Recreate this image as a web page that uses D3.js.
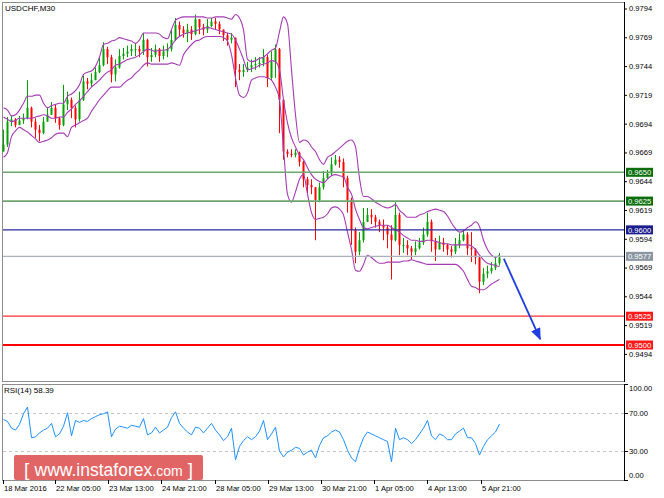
<!DOCTYPE html>
<html><head><meta charset="utf-8">
<script src="https://cdn.jsdelivr.net/npm/d3@7"></script>
<style>body{margin:0;background:#fff}svg{display:block}text{font-family:"Liberation Sans",Arial,sans-serif}</style>
</head><body>
<svg id="c" width="664" height="498"></svg>
<script>
// ---- data (USDCHF M30, each candle ~ 2.4 hours aggregated) ----
const firstOpen = 0.9668;
const closes = [0.9674,0.9694,0.9696,0.9691,0.9695,0.9697,0.9706,0.9694,0.9687,0.9684,
0.9694,0.9700,0.9706,0.9697,0.9691,0.9709,0.9713,0.9706,0.9696,0.9713,
0.9729,0.9727,0.9730,0.9737,0.9743,0.9757,0.9750,0.9735,0.9741,0.9751,
0.9753,0.9755,0.9757,0.9757,0.9755,0.9765,0.9750,0.9752,0.9757,0.9751,
0.9755,0.9757,0.9765,0.9778,0.9774,0.9771,0.9774,0.9770,0.9783,0.9776,
0.9774,0.9777,0.9781,0.9779,0.9774,0.9769,0.9765,0.9767,0.9739,0.9737,
0.9739,0.9741,0.9743,0.9744,0.9745,0.9750,0.9732,0.9746,0.9757,0.9713,
0.9668,0.9666,0.9665,0.9667,0.9659,0.9644,0.9639,0.9637,0.9626,0.9637,
0.9645,0.9649,0.9657,0.9661,0.9659,0.9645,0.9626,0.9600,0.9581,0.9591,
0.9607,0.9613,0.9611,0.9607,0.9604,0.9602,0.9596,0.9591,0.9613,0.9587,
0.9587,0.9584,0.9581,0.9584,0.9589,0.9596,0.9607,0.9590,0.9583,0.9589,
0.9587,0.9583,0.9581,0.9587,0.9591,0.9596,0.9584,0.9583,0.9576,0.9555,
0.9562,0.9564,0.9567,0.9571,0.9576];
const highs = [0.9687,0.9698,0.9699,0.9697,0.9699,0.9701,0.9730,0.9707,0.9697,0.9691,
0.9698,0.9706,0.9711,0.9709,0.9698,0.9726,0.9720,0.9715,0.9708,0.9720,
0.9734,0.9732,0.9736,0.9741,0.9750,0.9763,0.9759,0.9752,0.9748,0.9757,
0.9758,0.9760,0.9761,0.9762,0.9760,0.9771,0.9766,0.9758,0.9761,0.9758,
0.9760,0.9762,0.9774,0.9784,0.9781,0.9777,0.9779,0.9777,0.9787,0.9783,
0.9779,0.9783,0.9784,0.9784,0.9781,0.9774,0.9771,0.9771,0.9767,0.9744,
0.9744,0.9746,0.9748,0.9750,0.9750,0.9757,0.9752,0.9755,0.9761,0.9758,
0.9713,0.9670,0.9670,0.9670,0.9668,0.9660,0.9646,0.9644,0.9637,0.9641,
0.9651,0.9652,0.9663,0.9665,0.9664,0.9662,0.9647,0.9628,0.9602,0.9598,
0.9619,0.9619,0.9618,0.9613,0.9609,0.9609,0.9604,0.9604,0.9624,0.9615,
0.9593,0.9591,0.9586,0.9590,0.9593,0.9602,0.9615,0.9609,0.9593,0.9595,
0.9593,0.9588,0.9586,0.9593,0.9597,0.9600,0.9598,0.9598,0.9584,0.9578,
0.9567,0.9569,0.9572,0.9576,0.9580];
const lows = [0.9668,0.9672,0.9690,0.9689,0.9691,0.9692,0.9696,0.9689,0.9680,0.9677,
0.9683,0.9694,0.9700,0.9693,0.9687,0.9690,0.9704,0.9697,0.9689,0.9694,
0.9712,0.9722,0.9724,0.9730,0.9736,0.9742,0.9744,0.9728,0.9729,0.9740,
0.9748,0.9750,0.9751,0.9751,0.9750,0.9752,0.9742,0.9746,0.9750,0.9746,
0.9748,0.9750,0.9755,0.9764,0.9768,0.9767,0.9763,0.9765,0.9769,0.9770,
0.9769,0.9771,0.9776,0.9774,0.9770,0.9764,0.9760,0.9762,0.9724,0.9730,
0.9733,0.9737,0.9737,0.9739,0.9741,0.9742,0.9724,0.9730,0.9732,0.9684,
0.9661,0.9663,0.9663,0.9663,0.9655,0.9637,0.9632,0.9631,0.9591,0.9624,
0.9635,0.9644,0.9647,0.9656,0.9654,0.9637,0.9615,0.9587,0.9571,0.9578,
0.9589,0.9607,0.9605,0.9602,0.9598,0.9591,0.9584,0.9557,0.9590,0.9578,
0.9580,0.9578,0.9574,0.9578,0.9583,0.9587,0.9594,0.9581,0.9573,0.9583,
0.9581,0.9578,0.9576,0.9579,0.9584,0.9590,0.9578,0.9572,0.9570,0.9545,
0.9552,0.9558,0.9562,0.9565,0.9569];
const bbUpper = [0.9706,0.9704,0.9699,0.9700,0.9704,0.9710,0.9716,0.9716,0.9717,0.9717,
0.9710,0.9706,0.9708,0.9709,0.9710,0.9710,0.9716,0.9718,0.9721,0.9726,
0.9735,0.9737,0.9738,0.9742,0.9750,0.9761,0.9762,0.9764,0.9765,0.9767,
0.9766,0.9765,0.9764,0.9762,0.9765,0.9771,0.9771,0.9771,0.9771,0.9770,
0.9767,0.9766,0.9774,0.9782,0.9784,0.9785,0.9785,0.9785,0.9785,0.9785,
0.9785,0.9784,0.9784,0.9785,0.9785,0.9785,0.9784,0.9783,0.9787,0.9784,
0.9774,0.9748,0.9746,0.9747,0.9749,0.9750,0.9753,0.9756,0.9758,0.9772,
0.9785,0.9779,0.9739,0.9700,0.9676,0.9678,0.9677,0.9672,0.9668,0.9661,
0.9657,0.9663,0.9665,0.9668,0.9671,0.9674,0.9677,0.9678,0.9672,0.9645,
0.9629,0.9629,0.9627,0.9624,0.9622,0.9620,0.9619,0.9620,0.9622,0.9617,
0.9614,0.9611,0.9611,0.9611,0.9613,0.9614,0.9616,0.9617,0.9618,0.9617,
0.9616,0.9612,0.9606,0.9601,0.9598,0.9599,0.9602,0.9604,0.9607,0.9603,
0.9591,0.9583,0.9578,0.9576,0.9578];
const bbMiddle = [0.9698,0.9696,0.9694,0.9695,0.9697,0.9697,0.9697,0.9697,0.9698,0.9699,
0.9700,0.9699,0.9697,0.9697,0.9698,0.9698,0.9702,0.9705,0.9709,0.9712,
0.9716,0.9720,0.9724,0.9727,0.9730,0.9734,0.9737,0.9739,0.9743,0.9744,
0.9746,0.9748,0.9749,0.9750,0.9752,0.9755,0.9757,0.9756,0.9755,0.9756,
0.9756,0.9757,0.9760,0.9765,0.9768,0.9770,0.9771,0.9772,0.9773,0.9774,
0.9775,0.9776,0.9775,0.9774,0.9773,0.9772,0.9771,0.9770,0.9765,0.9757,
0.9748,0.9739,0.9740,0.9741,0.9743,0.9744,0.9745,0.9747,0.9746,0.9739,
0.9713,0.9693,0.9680,0.9672,0.9665,0.9661,0.9654,0.9648,0.9644,0.9642,
0.9641,0.9644,0.9647,0.9648,0.9647,0.9646,0.9637,0.9631,0.9618,0.9609,
0.9602,0.9601,0.9602,0.9603,0.9604,0.9604,0.9604,0.9602,0.9600,0.9598,
0.9595,0.9593,0.9591,0.9591,0.9590,0.9590,0.9591,0.9591,0.9590,0.9589,
0.9588,0.9588,0.9587,0.9587,0.9587,0.9587,0.9587,0.9586,0.9583,0.9578,
0.9574,0.9571,0.9570,0.9569,0.9568];
const bbLower = [0.9663,0.9667,0.9681,0.9686,0.9689,0.9687,0.9685,0.9682,0.9679,0.9676,
0.9677,0.9678,0.9680,0.9683,0.9684,0.9684,0.9681,0.9689,0.9691,0.9693,
0.9695,0.9697,0.9703,0.9708,0.9713,0.9717,0.9721,0.9724,0.9724,0.9724,
0.9727,0.9730,0.9732,0.9736,0.9739,0.9743,0.9745,0.9744,0.9744,0.9744,
0.9744,0.9744,0.9745,0.9744,0.9743,0.9752,0.9757,0.9761,0.9764,0.9765,
0.9767,0.9768,0.9768,0.9768,0.9768,0.9767,0.9764,0.9752,0.9732,0.9717,
0.9715,0.9719,0.9730,0.9732,0.9733,0.9733,0.9732,0.9730,0.9724,0.9713,
0.9671,0.9631,0.9624,0.9633,0.9644,0.9648,0.9631,0.9615,0.9609,0.9610,
0.9611,0.9614,0.9619,0.9620,0.9618,0.9613,0.9598,0.9583,0.9565,0.9564,
0.9570,0.9578,0.9576,0.9573,0.9571,0.9571,0.9572,0.9572,0.9572,0.9572,
0.9573,0.9573,0.9574,0.9573,0.9572,0.9571,0.9570,0.9570,0.9570,0.9570,
0.9570,0.9570,0.9570,0.9570,0.9568,0.9564,0.9557,0.9551,0.9550,0.9548,
0.9548,0.9550,0.9553,0.9555,0.9557];
const rsiValues = [63,61,54,52,58,69,76,44,45,49,
52,54,59,45,48,56,70,46,62,60,
62,61,64,66,68,69,71,45,53,56,
55,54,57,56,55,64,47,49,55,49,
52,55,65,71,59,54,50,47,55,54,
49,54,59,52,47,41,45,54,21,35,
41,45,42,45,51,62,42,48,55,30,
24,29,31,34,33,26,29,31,23,36,
44,46,50,52,50,42,31,23,19,33,
44,50,48,46,44,42,40,19,54,42,
44,42,38,42,48,54,62,46,42,48,
46,42,42,48,51,54,44,44,38,26,
35,42,46,50,58.39];
const priceTicks = [0.9794,0.9769,0.9744,0.9719,0.9694,0.9669,0.9644,0.9619,0.9594,0.9569,0.9544,0.9519,0.9494];
const rsiTicks = [100,70,30,0];
const rsiLevels = [70,30];
const timeLabels = ["18 Mar 2016","22 Mar 05:00","23 Mar 13:00","24 Mar 21:00","28 Mar 05:00","29 Mar 13:00","30 Mar 21:00","1 Apr 05:00","4 Apr 13:00","5 Apr 21:00"];
const timeLabelIndex = [0,13,26.3,39.6,52.9,66.2,79.5,92.8,106.1,119.4];
const levels = [0.9650,0.9625,0.9600,0.9577,0.9525,0.9500];
const arrowFrom = [125.2,0.9575], arrowTo = [134.3,0.9505];

// ---- styles ----
const levelColor = ["#6fa66f","#6fa66f","#2a2aa0","#aab2ba","#ff3030","#ff0000"];
const levelWidth = [1.6,1.6,1.2,1.2,1.2,2.2];
const levelBox = ["#0a6e0a","#0a6e0a","#1c1c8c","#8a96a2","#ff1a1a","#ff1a1a"];

const svg = d3.select("#c");
const L=2, R=624, T=2, B=381, RT=384, RB=480;
const x = d3.scaleLinear().domain([0,124]).range([3,499]);
const y = d3.scaleLinear().domain([0.9500,0.9650]).range([345,172.3]);
const yr = d3.scaleLinear().domain([0,100]).range([RB,RT]);

svg.append("defs").append("clipPath").attr("id","cm").append("rect").attr("x",L).attr("y",T).attr("width",R-L).attr("height",B-T);
svg.select("defs").append("clipPath").attr("id","cr").append("rect").attr("x",L).attr("y",RT).attr("width",R-L).attr("height",RB-RT);
svg.select("defs").append("marker").attr("id","ah").attr("markerUnits","userSpaceOnUse")
  .attr("markerWidth",12).attr("markerHeight",10).attr("refX",11).attr("refY",5).attr("orient","auto")
  .append("path").attr("d","M0,0L12,5L0,10Z").attr("fill","#1f3fe0");

// panels
svg.append("rect").attr("x",L+0.5).attr("y",T+0.5).attr("width",R-L).attr("height",B-T).attr("fill","none").attr("stroke","#8c8c8c");
svg.append("rect").attr("x",L+0.5).attr("y",RT+0.5).attr("width",R-L).attr("height",RB-RT).attr("fill","none").attr("stroke","#8c8c8c");

// candles
const opens = closes.map((c,i)=> i===0 ? firstOpen : closes[i-1]);
const cd = closes.map((c,i)=>({i, o:opens[i], c, h:highs[i], l:lows[i]}));
const gc = svg.append("g").attr("clip-path","url(#cm)");
const col = d => d.c>=d.o ? "#00a000" : "#ff0000";
gc.selectAll("line.w").data(cd).join("line").attr("class","w")
  .attr("x1",d=>x(d.i)+0.5).attr("x2",d=>x(d.i)+0.5).attr("y1",d=>y(d.h)).attr("y2",d=>y(d.l))
  .attr("stroke",col).attr("stroke-width",1);
gc.selectAll("rect.b").data(cd).join("rect").attr("class","b")
  .attr("x",d=>x(d.i)-0.5).attr("width",2)
  .attr("y",d=>y(Math.max(d.o,d.c))).attr("height",d=>Math.max(1,Math.abs(y(d.o)-y(d.c))))
  .attr("fill",col);

// bollinger
const bl = d3.line().x((d,i)=>x(i)+0.5).y(d=>y(d)).curve(d3.curveMonotoneX);
[bbUpper,bbMiddle,bbLower].forEach(arr=>{
  gc.append("path").attr("d",bl(arr)).attr("fill","none").attr("stroke","#a43cb4").attr("stroke-width",1.1);
});

// levels
levels.forEach((v,k)=>{
  svg.append("line").attr("x1",L+1).attr("x2",R).attr("y1",y(v)).attr("y2",y(v))
    .attr("stroke",levelColor[k]).attr("stroke-width",levelWidth[k]);
});

// right axis (price)
const ax = svg.append("g").attr("transform",`translate(${R},2)`)
  .call(d3.axisRight(y).tickValues(priceTicks).tickSize(3).tickPadding(2).tickFormat(d3.format(".4f")));
ax.select(".domain").remove();
ax.selectAll("line").attr("stroke","#000");
ax.selectAll("text").attr("font-size","7.6px").attr("font-family","Liberation Sans, Arial").attr("fill","#000");
svg.append("line").attr("x1",R+0.5).attr("x2",R+0.5).attr("y1",T).attr("y2",B+1).attr("stroke","#000");

// level boxes
levels.forEach((v,k)=>{
  svg.append("rect").attr("x",R+2).attr("y",y(v)-4.5).attr("width",27).attr("height",9).attr("fill",levelBox[k]);
  svg.append("text").attr("x",R+15.5).attr("y",y(v)+2.8).attr("text-anchor","middle")
    .attr("font-size","7.6px").attr("fill","#fff").text(d3.format(".4f")(v));
});

// arrow
svg.append("line").attr("x1",x(arrowFrom[0])).attr("y1",y(arrowFrom[1])).attr("x2",x(arrowTo[0])).attr("y2",y(arrowTo[1]))
  .attr("stroke","#1f3fe0").attr("stroke-width",1.8).attr("marker-end","url(#ah)");

// title
svg.append("text").attr("x",5).attr("y",10.5).attr("font-size","8px").attr("fill","#000").text("USDCHF,M30");

// RSI panel
rsiLevels.forEach(v=>{
  svg.append("line").attr("x1",L+1).attr("x2",R).attr("y1",Math.round(yr(v))+0.5).attr("y2",Math.round(yr(v))+0.5)
    .attr("stroke","#c4c4c4").attr("stroke-dasharray","3,3");
});
const gr = svg.append("g").attr("clip-path","url(#cr)");
gr.append("path").attr("d",d3.line().x((d,i)=>x(i)+0.5).y(d=>yr(d))(rsiValues))
  .attr("fill","none").attr("stroke","#1e90ff").attr("stroke-width",1);
svg.append("text").attr("x",4).attr("y",393).attr("font-size","8px").attr("fill","#000").text("RSI(14) " + d3.format(".2f")(rsiValues[rsiValues.length-1]));
svg.append("line").attr("x1",R+0.5).attr("x2",R+0.5).attr("y1",RT).attr("y2",RB+1).attr("stroke","#000");
rsiTicks.forEach(v=>{
  const ty = Math.round(yr(v))+0.5;
  svg.append("line").attr("x1",R).attr("x2",R+4).attr("y1",ty).attr("y2",ty).attr("stroke","#000");
  const ly = Math.min(Math.max(yr(v),388.5),475);
  svg.append("text").attr("x",R+5).attr("y",ly+2.8).attr("font-size","7.6px").attr("fill","#000").text(d3.format(".2f")(v));
});

// x axis
timeLabelIndex.forEach((t,k)=>{
  const tx = Math.round(x(t))+0.5;
  svg.append("line").attr("x1",tx).attr("x2",tx).attr("y1",RB).attr("y2",RB+4).attr("stroke","#000");
  svg.append("text").attr("x",tx+0.5).attr("y",490.5).attr("font-size","7.6px").attr("fill","#000").text(timeLabels[k]);
});

// logo
const lg = svg.append("g");
lg.append("rect").attr("x",14).attr("y",455).attr("width",189).attr("height",25).attr("rx",2).attr("fill","#e05858").attr("opacity",0.92);
const lt = lg.append("text").attr("x",24).attr("y",476).attr("fill","#fff");
lt.append("tspan").attr("font-size","19px").attr("font-weight","300").text("[ ");
lt.append("tspan").attr("font-size","17.5px").text("www.instaforex");
lt.append("tspan").attr("font-size","14px").text(".com");
lt.append("tspan").attr("font-size","19px").text(" ]");
</script>
</body></html>
